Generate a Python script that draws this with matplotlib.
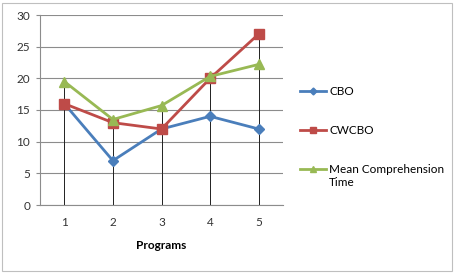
import matplotlib
matplotlib.use("Agg")
import matplotlib.pyplot as plt
from matplotlib.patches import Rectangle

programs = [1, 2, 3, 4, 5]
cbo = [16, 7, 12, 14, 12]
cwcbo = [16, 13, 12, 20, 27]
mean_time = [19.5, 13.5, 15.7, 20.3, 22.2]
labels = ["CBO", "CWCBO", "Mean Comprehension"]
label_tail = "Time"

plt.rcParams["font.family"] = ["Lato", "DejaVu Sans"]
fs = 8.5
fig = plt.figure(figsize=(4.55, 2.75), dpi=100)
ax = fig.add_axes([40 / 455, 70 / 275, 243 / 455, 190 / 275])

# drop lines from the highest point down to the axis
for x, a, b, c in zip(programs, cbo, cwcbo, mean_time):
    ax.plot([x, x], [0, max(a, b, c)], color="#202020", lw=0.7, zorder=1)

ax.plot(programs, cbo, "-D", color="#4A7EBB", lw=2, ms=5, label=labels[0], zorder=3)
ax.plot(programs, cwcbo, "-s", color="#BE4B48", lw=2, ms=7, label=labels[1], zorder=3)
ax.plot(programs, mean_time, "-^", color="#98B954", lw=2, ms=7, label=labels[2], zorder=4)

ax.set_xlim(0.5, 5.5)
ax.set_ylim(0, 30)
ax.set_xticks(programs)
ax.set_yticks(range(0, 31, 5))
ax.yaxis.grid(True, color="#8C8C8C", lw=0.8)
ax.set_axisbelow(True)
for s in ["top", "right"]:
    ax.spines[s].set_visible(False)
for s in ["left", "bottom"]:
    ax.spines[s].set_color("#8C8C8C")
ax.tick_params(axis="y", length=3, color="#8C8C8C", labelsize=fs, pad=4, labelcolor="#333333")
ax.tick_params(axis="x", length=0, labelsize=fs, pad=9, labelcolor="#333333")
ax.set_xlabel("Programs", fontsize=fs, fontweight="bold", labelpad=8)

leg = fig.legend(loc="upper left", bbox_to_anchor=(295 / 455, 1 - 81 / 275), frameon=False,
                 fontsize=fs, handlelength=2.2, labelspacing=2.4, handletextpad=0.3,
                 borderaxespad=0, markerscale=0.7)

# second line of the last legend label, placed under its first line
fig.canvas.draw()
last = leg.get_texts()[-1]
bb = last.get_window_extent().transformed(fig.transFigure.inverted())
fig.text(bb.x0, bb.y0 - 2 / 275, label_tail, fontsize=fs, va="top", ha="left")

fig.add_artist(Rectangle((2 / 455, 4 / 275), 450 / 455, 268 / 275, transform=fig.transFigure,
                         fill=False, ec="#BFBFBF", lw=0.8))

fig.savefig("out.png", dpi=100)
